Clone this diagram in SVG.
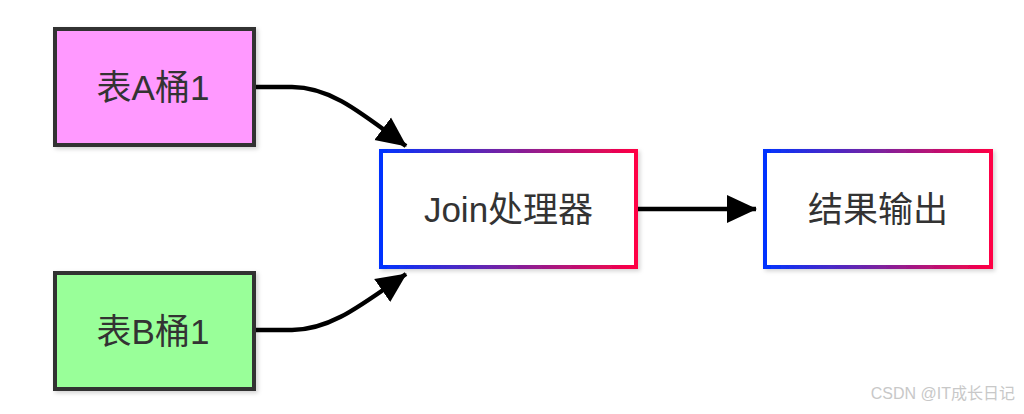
<svg xmlns="http://www.w3.org/2000/svg" width="1024" height="414" viewBox="0 0 1024 414">
<style>
.lbl{font-family:"Liberation Sans","Noto Sans CJK SC",sans-serif;font-size:35px;fill:#333;text-anchor:middle;dominant-baseline:central}
.src{stroke:#333;stroke-width:4}
.grad{fill:#fff;stroke:url(#g);stroke-width:4}
.edge{fill:none;stroke:#000;stroke-width:4.5}
.wm{font-family:"Liberation Sans","Noto Sans CJK SC",sans-serif;font-size:16px;fill:#c8c8c8}
</style>
<defs>
<linearGradient id="g" x1="0" y1="0" x2="1" y2="0">
<stop offset="0" stop-color="#0033ff"/>
<stop offset="0.5" stop-color="#7a22a0"/>
<stop offset="1" stop-color="#ff0044"/>
</linearGradient>
<filter id="sh" x="-10%" y="-10%" width="130%" height="130%">
<feDropShadow dx="2" dy="2" stdDeviation="2" flood-color="#000" flood-opacity="0.18"/>
</filter>
<marker id="ah" markerUnits="userSpaceOnUse" markerWidth="30" markerHeight="30" viewBox="0 0 30 30" refX="29" refY="15" orient="auto">
<path d="M0,1 L30,15 L0,29 Z" fill="#000"/>
</marker>
</defs>
<g id="edges">
<path class="edge" d="M256,87 L292,87 C330,87 360,112 406,146" marker-end="url(#ah)"/>
<path class="edge" d="M256,330 L292,330 C330,330 360,306 406,274" marker-end="url(#ah)"/>
<path class="edge" d="M638,209 L756,209" marker-end="url(#ah)"/>
</g>
<g id="nodeA">
<rect class="src" x="55" y="29" width="199" height="116" fill="#ff99ff" filter="url(#sh)"/>
<text class="lbl" x="153" y="87">表A桶1</text>
</g>
<g id="nodeB">
<rect class="src" x="55" y="273" width="199" height="116" fill="#99ff99" filter="url(#sh)"/>
<text class="lbl" x="153" y="331">表B桶1</text>
</g>
<g id="nodeJoin">
<rect class="grad" x="381" y="151" width="255" height="116" filter="url(#sh)"/>
<text class="lbl" x="508.5" y="209">Join处理器</text>
</g>
<g id="nodeOut">
<rect class="grad" x="765" y="151" width="226" height="116" filter="url(#sh)"/>
<text class="lbl" x="878" y="209">结果输出</text>
</g>
<text class="wm" x="1015" y="399" text-anchor="end">CSDN @IT成长日记</text>
</svg>
